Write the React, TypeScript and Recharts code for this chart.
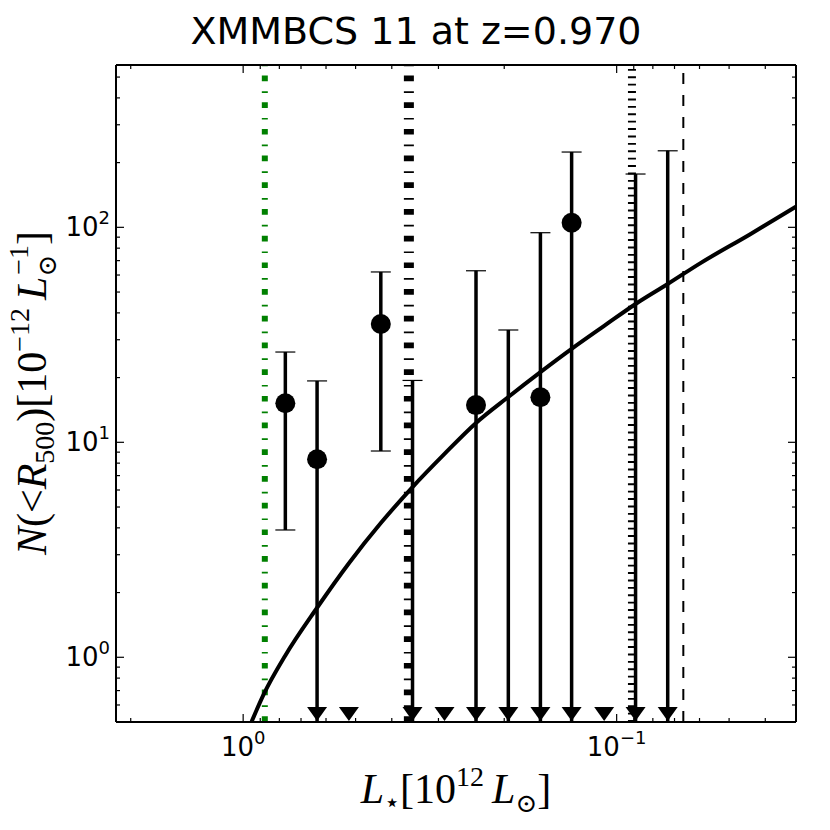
import { ComposedChart, ErrorBar, Line, ReferenceLine, Scatter, XAxis, YAxis } from 'recharts';

const X_DOMAIN: [number, number] = [0.0331, 2.19];
const Y_DOMAIN: [number, number] = [0.5, 569];

const X_TICKS = [2, 1, 0.9, 0.8, 0.7, 0.6, 0.5, 0.4, 0.3, 0.2, 0.1, 0.09, 0.08, 0.07, 0.06, 0.05, 0.04];
const Y_TICKS = [
  0.6, 0.7, 0.8, 0.9, 1, 2, 3, 4, 5, 6, 7, 8, 9, 10, 20, 30, 40, 50, 60, 70, 80, 90, 100, 200, 300, 400, 500,
];

// bins with a measured count (circle + error bar)
const detL = [0.771, 0.634, 0.428, 0.238, 0.16, 0.132];
const detN = [15.2, 8.34, 35.5, 14.9, 16.2, 105];
const detHi = [26.3, 19.3, 62, 62.8, 94.4, 224];
const detLo = [3.91, 0.5, 9.11, 0.5, 0.5, 0.5];

// bins with only an upper bound drawn
const limL = [0.352, 0.195, 0.089, 0.073];
const limHi = [19.4, 33.3, 177, 227];

// bins that get a down-pointing arrow head at the bottom
const arrowL = [0.634, 0.521, 0.352, 0.289, 0.238, 0.195, 0.16, 0.132, 0.108, 0.089, 0.073];

// model curve
const curveL = [0.949, 0.88, 0.771, 0.634, 0.521, 0.428, 0.352, 0.289, 0.238, 0.195, 0.16, 0.132, 0.108, 0.089, 0.073, 0.0598, 0.044, 0.0331];
const curveN = [0.502, 0.675, 1.02, 1.7, 2.74, 4.21, 6.19, 8.83, 12.3, 16.25, 21.2, 27.2, 34.8, 44.0, 54.5, 68.0, 92.7, 124.7];

// vertical reference luminosities
const cutL = [0.875, 0.36, 0.091, 0.0663];
const CUT_STYLES = [
  { stroke: '#008000', strokeWidth: 6, strokeDasharray: '5.7 9.3 1.7 10' },
  { stroke: '#000', strokeWidth: 10, strokeDasharray: '5.7 9.3 1.7 10' },
  { stroke: '#000', strokeWidth: 8, strokeDasharray: '1.9 5.5' },
  { stroke: '#000', strokeWidth: 2, strokeDasharray: '11 11' },
];

const detections = detL.map((x, i) => ({ x, y: detN[i], err: [detN[i] - detLo[i], detHi[i] - detN[i]] }));
const limits = limL.map((x, i) => ({ x, y: Y_DOMAIN[0], err: [0, limHi[i] - Y_DOMAIN[0]] }));
const arrows = arrowL.map((x) => ({ x, y: Y_DOMAIN[0] }));
const curve = curveL.map((x, i) => ({ x, y: curveN[i] }));

const TICK_FONT = 'DejaVu Sans';
const MATH_FONT = '"Liberation Serif", "DejaVu Serif", serif';

function expLabel(e: number): string {
  return e < 0 ? `\u2212${-e}` : `${e}`;
}

function makeTick(side: 'bottom' | 'top' | 'left' | 'right') {
  return function Tick(props: any) {
    const { x, y, payload } = props;
    const lv = Math.log10(payload.value);
    const e = Math.round(lv);
    const major = Math.abs(lv - e) < 1e-6;
    const len = major ? 8 : 4;
    let x2 = x;
    let y2 = y;
    if (side === 'bottom') y2 = y - len;
    if (side === 'top') y2 = y + len;
    if (side === 'left') x2 = x + len;
    if (side === 'right') x2 = x - len;
    return (
      <g>
        <line x1={x} y1={y} x2={x2} y2={y2} stroke="#000" strokeWidth={1.2} />
        {major && side === 'bottom' && (
          <text x={x} y={y + 34} textAnchor="middle" fontFamily={TICK_FONT} fontSize={26} fill="#000">
            10<tspan dy={-12} fontSize={18}>{expLabel(e)}</tspan>
          </text>
        )}
        {major && side === 'left' && (
          <text x={x - 6} y={y + 9} textAnchor="end" fontFamily={TICK_FONT} fontSize={26} fill="#000">
            10<tspan dy={-12} fontSize={18}>{expLabel(e)}</tspan>
          </text>
        )}
      </g>
    );
  };
}

function Dot(props: any) {
  return <circle cx={props.cx} cy={props.cy} r={10} fill="#000" />;
}

function ArrowHead(props: any) {
  const { cx, cy } = props;
  return <path d={`M${cx - 10},${cy - 15}L${cx + 10},${cy - 15}L${cx},${cy - 1}Z`} fill="#000" />;
}

function Hidden() {
  return <g />;
}

const axisLine = { stroke: '#000', strokeWidth: 2 };

export default function App() {
  return (
    <div style={{ position: 'absolute', left: 0, top: 0, width: 830, height: 830, background: '#fff' }}>
      <ComposedChart width={830} height={830} margin={{ top: 45, right: 14, bottom: 68, left: 56 }}>
        <XAxis
          dataKey="x"
          type="number"
          scale="log"
          domain={X_DOMAIN}
          allowDataOverflow
          reversed
          ticks={X_TICKS}
          interval={0}
          height={40}
          tickSize={0}
          tickMargin={0}
          tickLine={false}
          axisLine={axisLine}
          tick={makeTick('bottom')}
        />
        <XAxis
          xAxisId="top"
          orientation="top"
          dataKey="x"
          type="number"
          scale="log"
          domain={X_DOMAIN}
          allowDataOverflow
          reversed
          ticks={X_TICKS}
          interval={0}
          height={20}
          tickSize={0}
          tickMargin={0}
          tickLine={false}
          axisLine={axisLine}
          tick={makeTick('top')}
        />
        <YAxis
          type="number"
          scale="log"
          domain={Y_DOMAIN}
          allowDataOverflow
          ticks={Y_TICKS}
          interval={0}
          width={60}
          tickSize={0}
          tickMargin={0}
          tickLine={false}
          axisLine={axisLine}
          tick={makeTick('left')}
        />
        <YAxis
          yAxisId="right"
          orientation="right"
          type="number"
          scale="log"
          domain={Y_DOMAIN}
          allowDataOverflow
          ticks={Y_TICKS}
          interval={0}
          width={20}
          tickSize={0}
          tickMargin={0}
          tickLine={false}
          axisLine={axisLine}
          tick={makeTick('right')}
        />
        {cutL.map((x, i) => (
          <ReferenceLine key={i} x={x} {...CUT_STYLES[i]} />
        ))}
        <Line
          data={curve}
          dataKey="y"
          type="monotone"
          stroke="#000"
          strokeWidth={4}
          dot={false}
          activeDot={false}
          isAnimationActive={false}
        />
        <Scatter data={limits} dataKey="y" shape={Hidden} isAnimationActive={false}>
          <ErrorBar dataKey="err" direction="y" width={0} stroke="#000" strokeWidth={3.5} />
          <ErrorBar dataKey="err" direction="y" width={10} stroke="#000" strokeWidth={1.2} />
        </Scatter>
        <Scatter data={detections} dataKey="y" shape={Dot} isAnimationActive={false}>
          <ErrorBar dataKey="err" direction="y" width={0} stroke="#000" strokeWidth={3.5} />
          <ErrorBar dataKey="err" direction="y" width={10} stroke="#000" strokeWidth={1.2} />
        </Scatter>
        <Scatter data={arrows} dataKey="y" shape={ArrowHead} isAnimationActive={false} />
      </ComposedChart>
      <svg width={830} height={830} style={{ position: 'absolute', left: 0, top: 0, pointerEvents: 'none' }}>
        <text x={416} y={44} textAnchor="middle" fontFamily={TICK_FONT} fontSize={38} fill="#000">
          XMMBCS 11 at z=0.970
        </text>
        <text x={456} y={803} textAnchor="middle" fontFamily={MATH_FONT} fontSize={42} fill="#000">
          <tspan fontStyle="italic">L</tspan>
          <tspan fontSize={26} dy={8}>⋆</tspan>
          <tspan dy={-8}>[10</tspan>
          <tspan fontSize={28} dy={-17}>12</tspan>
          <tspan dy={17} dx={8} fontStyle="italic">L</tspan>
          <tspan fontSize={26} dy={9}>⊙</tspan>
          <tspan dy={-9}>]</tspan>
        </text>
        <text
          x={46}
          y={393}
          transform="rotate(-90 46 393)"
          textAnchor="middle"
          fontFamily={MATH_FONT}
          fontSize={42}
          fill="#000"
        >
          <tspan fontStyle="italic">N</tspan>
          <tspan>(&lt;</tspan>
          <tspan fontStyle="italic">R</tspan>
          <tspan fontSize={28} dy={8}>500</tspan>
          <tspan dy={-8}>)[10</tspan>
          <tspan fontSize={28} dy={-17}>−12</tspan>
          <tspan dy={17} dx={8} fontStyle="italic">L</tspan>
          <tspan fontSize={26} dy={10}>⊙</tspan>
          <tspan fontSize={28} dx={-20} dy={-28}>−1</tspan>
          <tspan dy={18}>]</tspan>
        </text>
      </svg>
    </div>
  );
}
